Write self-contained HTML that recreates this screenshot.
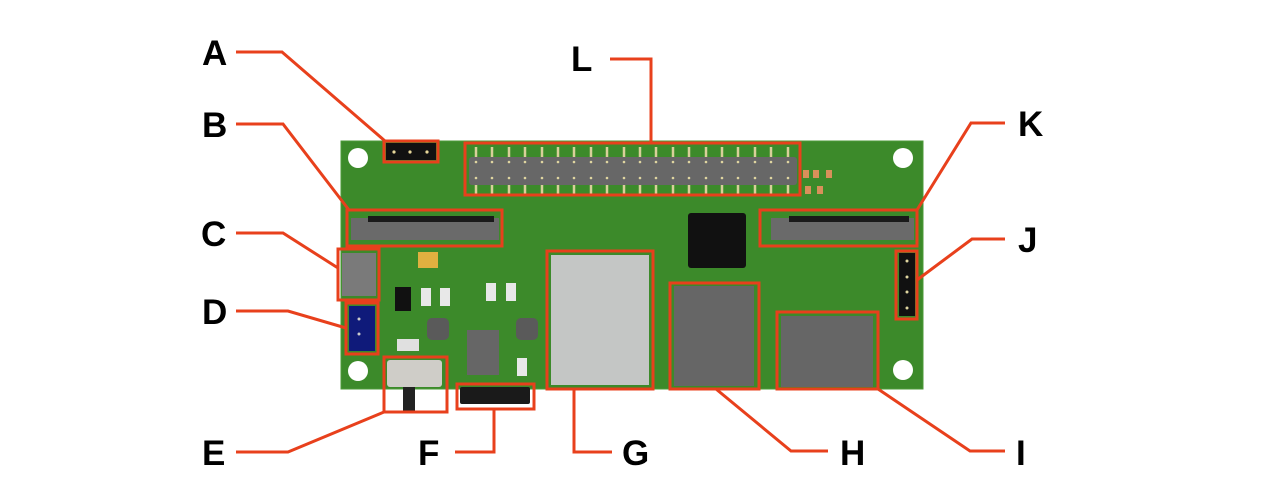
<!DOCTYPE html>
<html><head><meta charset="utf-8"><style>
html,body{margin:0;padding:0;background:#fff;}
svg{display:block;}
text{font-family:"Liberation Sans",Arial,sans-serif;font-weight:bold;font-size:35px;fill:#000;}
</style></head><body>
<svg width="1280" height="496" viewBox="0 0 1280 496" xmlns="http://www.w3.org/2000/svg">
<!-- board -->
<rect x="341" y="141" width="582" height="248" fill="#3c8a2a"/>
<rect x="341" y="141" width="582" height="248" fill="none" stroke="#4d9a38" stroke-width="1"/>
<circle cx="358" cy="158" r="10" fill="#fff"/>
<circle cx="903" cy="158" r="10" fill="#fff"/>
<circle cx="358" cy="371" r="10" fill="#fff"/>
<circle cx="903" cy="370" r="10" fill="#fff"/>
<!-- A header -->
<rect x="386" y="143" width="50" height="17" fill="#111"/>
<circle cx="394" cy="152" r="1.6" fill="#e8d89a"/><circle cx="410" cy="152" r="1.6" fill="#e8d89a"/><circle cx="427" cy="152" r="1.6" fill="#e8d89a"/>
<!-- L header -->
<rect x="469" y="157" width="328" height="28" rx="3" fill="#676767"/>
<g fill="#d8cf9a" id="pins">
<rect x="475" y="147" width="2" height="10"/><rect x="475" y="185" width="2" height="10"/>
</g>
<g fill="#d8cf9a">
<path d="M476 147v10M476 185v10M492 147v10M492 185v10M509 147v10M509 185v10M525 147v10M525 185v10M542 147v10M542 185v10M558 147v10M558 185v10M574 147v10M574 185v10M591 147v10M591 185v10M607 147v10M607 185v10M624 147v10M624 185v10M640 147v10M640 185v10M656 147v10M656 185v10M673 147v10M673 185v10M689 147v10M689 185v10M706 147v10M706 185v10M722 147v10M722 185v10M738 147v10M738 185v10M755 147v10M755 185v10M771 147v10M771 185v10M788 147v10M788 185v10" stroke="#d8cf9a" stroke-width="2.5"/>
</g>
<g fill="#e0d6a0">
<circle cx="476" cy="162" r="1.3"/><circle cx="476" cy="178" r="1.3"/>
<circle cx="492" cy="162" r="1.3"/><circle cx="492" cy="178" r="1.3"/>
<circle cx="509" cy="162" r="1.3"/><circle cx="509" cy="178" r="1.3"/>
<circle cx="525" cy="162" r="1.3"/><circle cx="525" cy="178" r="1.3"/>
<circle cx="542" cy="162" r="1.3"/><circle cx="542" cy="178" r="1.3"/>
<circle cx="558" cy="162" r="1.3"/><circle cx="558" cy="178" r="1.3"/>
<circle cx="574" cy="162" r="1.3"/><circle cx="574" cy="178" r="1.3"/>
<circle cx="591" cy="162" r="1.3"/><circle cx="591" cy="178" r="1.3"/>
<circle cx="607" cy="162" r="1.3"/><circle cx="607" cy="178" r="1.3"/>
<circle cx="624" cy="162" r="1.3"/><circle cx="624" cy="178" r="1.3"/>
<circle cx="640" cy="162" r="1.3"/><circle cx="640" cy="178" r="1.3"/>
<circle cx="656" cy="162" r="1.3"/><circle cx="656" cy="178" r="1.3"/>
<circle cx="673" cy="162" r="1.3"/><circle cx="673" cy="178" r="1.3"/>
<circle cx="689" cy="162" r="1.3"/><circle cx="689" cy="178" r="1.3"/>
<circle cx="706" cy="162" r="1.3"/><circle cx="706" cy="178" r="1.3"/>
<circle cx="722" cy="162" r="1.3"/><circle cx="722" cy="178" r="1.3"/>
<circle cx="738" cy="162" r="1.3"/><circle cx="738" cy="178" r="1.3"/>
<circle cx="755" cy="162" r="1.3"/><circle cx="755" cy="178" r="1.3"/>
<circle cx="771" cy="162" r="1.3"/><circle cx="771" cy="178" r="1.3"/>
<circle cx="788" cy="162" r="1.3"/><circle cx="788" cy="178" r="1.3"/>
</g>
<!-- small orange parts right of L -->
<g fill="#d9905a">
<rect x="803" y="170" width="6" height="8"/><rect x="813" y="170" width="6" height="8"/><rect x="826" y="170" width="6" height="8"/>
<rect x="805" y="186" width="6" height="8"/><rect x="817" y="186" width="6" height="8"/>
</g>
<!-- FPC connectors B and K -->
<rect x="351" y="218" width="148" height="22" fill="#6a6a6a"/>
<rect x="368" y="216" width="126" height="6" fill="#1a1a1a"/>
<rect x="771" y="218" width="143" height="22" fill="#6a6a6a"/>
<rect x="789" y="216" width="120" height="6" fill="#1a1a1a"/>
<!-- chip -->
<rect x="688" y="213" width="58" height="55" rx="3" fill="#111"/>
<!-- C usb -->
<rect x="342" y="253" width="34" height="43" fill="#7a7a7a"/>
<!-- D jst -->
<rect x="349" y="306" width="26" height="45" fill="#0f1a7a"/>
<circle cx="359" cy="319" r="1.5" fill="#ccc"/><circle cx="359" cy="334" r="1.5" fill="#ccc"/>
<!-- misc -->
<rect x="418" y="252" width="20" height="16" fill="#e0b040"/>
<rect x="395" y="287" width="16" height="24" fill="#111"/>
<rect x="421" y="288" width="10" height="18" fill="#e8e8e8"/><rect x="440" y="288" width="10" height="18" fill="#e8e8e8"/>
<rect x="486" y="283" width="10" height="18" fill="#e8e8e8"/><rect x="506" y="283" width="10" height="18" fill="#e8e8e8"/>
<rect x="427" y="318" width="22" height="22" rx="5" fill="#5a5a5a"/>
<rect x="516" y="318" width="22" height="22" rx="5" fill="#5a5a5a"/>
<rect x="467" y="330" width="32" height="45" fill="#666"/>
<rect x="397" y="339" width="22" height="12" fill="#e0e0e0"/>
<rect x="517" y="358" width="10" height="18" fill="#e8e8e8"/>
<!-- E switch -->
<rect x="387" y="360" width="55" height="27" rx="3" fill="#cfcdc8"/>
<rect x="403" y="387" width="12" height="24" fill="#222"/>
<!-- F -->
<rect x="460" y="387" width="70" height="17" rx="2" fill="#1a1a1a"/>
<!-- G -->
<rect x="551" y="255" width="98" height="130" fill="#c4c6c5"/>
<!-- H -->
<rect x="674" y="286" width="80" height="100" fill="#666"/>
<!-- I -->
<rect x="781" y="316" width="92" height="71" fill="#666"/>
<!-- J -->
<rect x="899" y="253" width="16" height="63" fill="#111"/>
<g fill="#e0d6a0"><circle cx="907" cy="261" r="1.5"/><circle cx="907" cy="277" r="1.5"/><circle cx="907" cy="292" r="1.5"/><circle cx="907" cy="308" r="1.5"/></g>

<!-- red boxes and leaders -->
<g fill="none" stroke="#e8401c" stroke-width="3" stroke-linejoin="miter">
<rect x="384" y="141" width="54" height="21"/>
<rect x="465" y="143" width="335" height="52"/>
<rect x="347" y="210" width="155" height="36"/>
<rect x="760" y="210" width="157" height="36"/>
<rect x="338" y="249" width="41" height="51"/>
<rect x="346" y="303" width="32" height="51"/>
<rect x="384" y="357" width="63" height="55"/>
<rect x="457" y="384" width="77" height="25"/>
<rect x="547" y="251" width="106" height="138"/>
<rect x="670" y="283" width="89" height="106"/>
<rect x="777" y="312" width="101" height="77"/>
<rect x="896" y="251" width="21" height="68"/>
<polyline points="236,52 282,52 385,141"/>
<polyline points="236,124 283,124 349,210"/>
<polyline points="236,233 283,233 338,268"/>
<polyline points="236,311 288,311 346,328"/>
<polyline points="236,452 288,452 384,412"/>
<polyline points="455,452 494,452 494,409"/>
<polyline points="612,452 574,452 574,389"/>
<polyline points="610,59 651,59 651,143"/>
<polyline points="828,451 791,451 716,389"/>
<polyline points="1005,451 970,451 878,389"/>
<polyline points="1005,123 971,123 917,210"/>
<polyline points="1005,239 972,239 917,280"/>
</g>

<text x="202" y="65">A</text>
<text x="202" y="137">B</text>
<text x="201" y="246">C</text>
<text x="202" y="324">D</text>
<text x="202" y="465">E</text>
<text x="418" y="465">F</text>
<text x="622" y="465">G</text>
<text x="571" y="71">L</text>
<text x="840" y="465">H</text>
<text x="1016" y="465">I</text>
<text x="1018" y="136">K</text>
<text x="1018" y="252">J</text>
</svg>
</body></html>
